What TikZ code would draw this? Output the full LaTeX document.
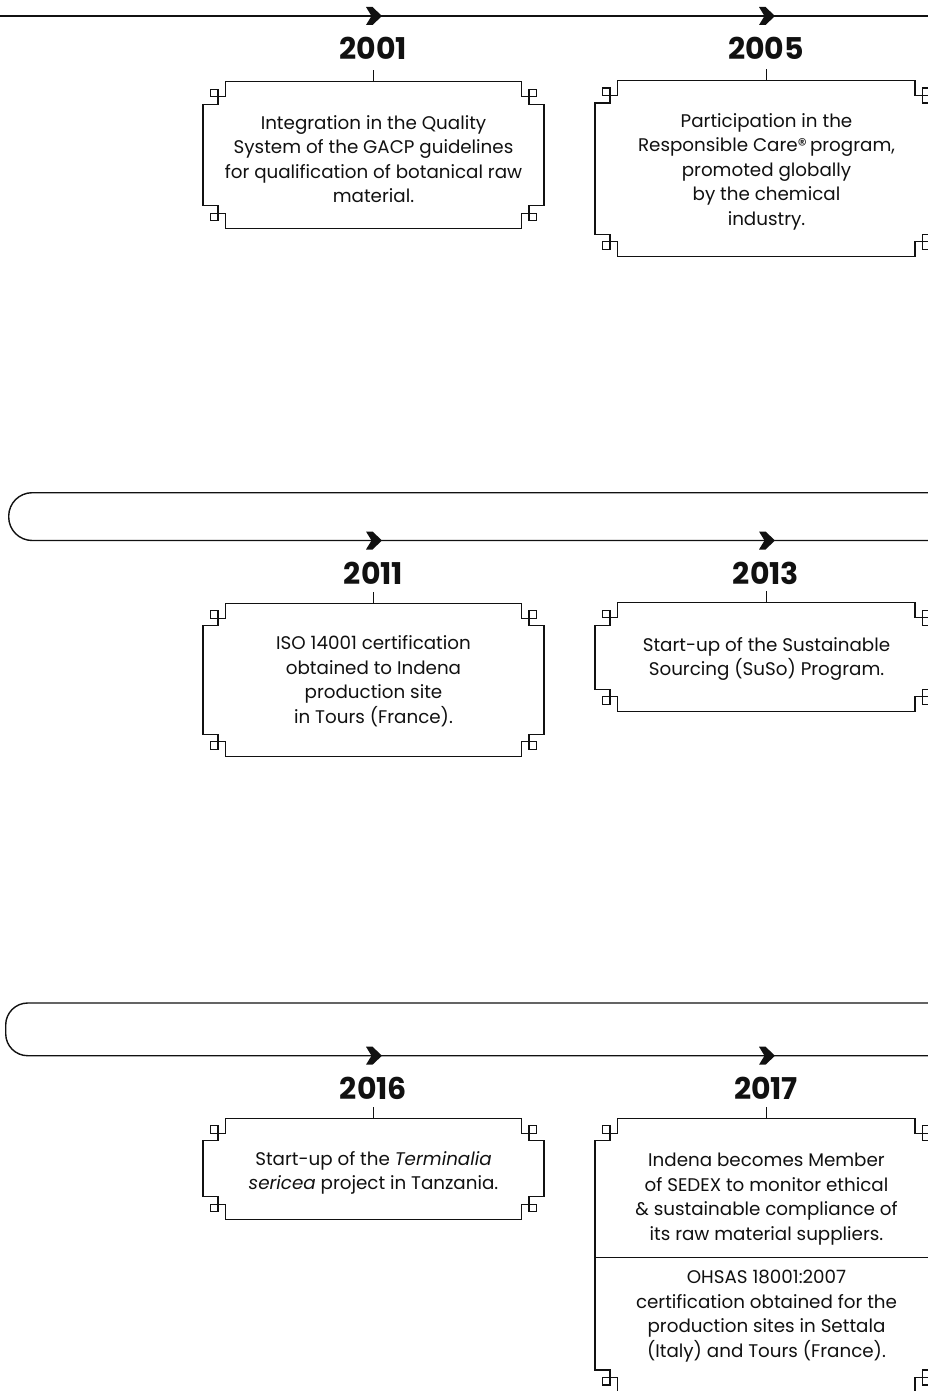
\documentclass[tikz,border=0pt]{standalone}
\usepackage{fontspec}
\setmainfont{Poppins}
\newfontfamily\yearfont{Poppins}
\usetikzlibrary{calc}
\definecolor{ink}{HTML}{111111}
\newcommand{\decoframe}[1]{%
  \draw[frame] ([yshift=-22.5pt]#1.north west) -- ++(15pt,0pt) -- ++(0pt,7.5pt) -- ++(7.5pt,0pt) -- ++(0pt,15pt)
    -- ([xshift=-22.5pt]#1.north east) -- ++(0pt,-15pt) -- ++(7.5pt,0pt) -- ++(0pt,-7.5pt) -- ++(15pt,0pt)
    -- ([yshift=22.5pt]#1.south east) -- ++(-15pt,0pt) -- ++(0pt,-7.5pt) -- ++(-7.5pt,0pt) -- ++(0pt,-15pt)
    -- ([xshift=22.5pt]#1.south west) -- ++(0pt,15pt) -- ++(-7.5pt,0pt) -- ++(0pt,7.5pt) -- ++(-15pt,0pt) -- cycle;
  \draw[frame] ([shift={(7.5pt,-7.5pt)}]#1.north west) rectangle ++(7.5pt,-7.5pt);
  \draw[frame] ([shift={(-7.5pt,-7.5pt)}]#1.north east) rectangle ++(-7.5pt,-7.5pt);
  \draw[frame] ([shift={(-7.5pt,7.5pt)}]#1.south east) rectangle ++(-7.5pt,7.5pt);
  \draw[frame] ([shift={(7.5pt,7.5pt)}]#1.south west) rectangle ++(7.5pt,7.5pt);
  \draw[stub] (#1.north) -- ++(0pt,11.5pt);
}
\tikzset{
  frame/.style={draw=ink, line width=1.1pt},
  stub/.style={draw=ink, line width=1pt},
  tline/.style={draw=ink, line width=1.4pt},
  boxarea/.style={rectangle, draw=none, inner sep=0pt, outer sep=0pt},
  yearlbl/.style={text=ink, inner sep=0pt, font=\yearfont\bfseries\fontsize{30}{30}\selectfont},
  bodytxt/.style={text=ink, inner sep=0pt, align=center, font=\fontsize{18.3}{24.5}\selectfont},
  chev/.pic={\fill[ink] (-8pt,9pt) -- (-1.5pt,9pt) -- (8pt,0pt) -- (-1.5pt,-9pt) -- (-8pt,-9pt) -- (-2.5pt,0pt) -- cycle;}
}
\begin{document}
\begin{tikzpicture}[x=1pt,y=-1pt]
\useasboundingbox (0,0) rectangle (928,1391);
\clip (0,0) rectangle (928,1391);
\fill[white] (0,0) rectangle (928,1391);

% ---------- timeline ----------
\coordinate (r1w) at (0,16);
\coordinate (r1e) at (928,16);
\coordinate (r2a) at (928,492.7);
\coordinate (r2l) at (8.7,492.7);
\coordinate (r2m) at (8.7,540.5);
\coordinate (r2b) at (928,540.5);
\coordinate (r3a) at (928,1003);
\coordinate (r3l) at (5.7,1003);
\coordinate (r3m) at (5.7,1055.7);
\coordinate (r3b) at (928,1055.7);
\draw[tline] (r1w) -- (r1e);
\draw[tline, rounded corners=23.5pt] (r2a) -- (r2l) -- (r2m) -- (r2b);
\draw[tline, rounded corners=22pt] (r3a) -- (r3l) -- (r3m) -- (r3b);
\pic (a2001) at (374,16) {chev};
\pic (a2005) at (767,16) {chev};
\pic (a2011) at (374,540.5) {chev};
\pic (a2013) at (767,540.5) {chev};
\pic (a2016) at (374,1055.7) {chev};
\pic (a2017) at (767,1055.7) {chev};

% ---------- years ----------
\node[yearlbl] (y2001) at (373.5,48) {2001};
\node[yearlbl] (y2005) at (766,48) {2005};
\node[yearlbl] (y2011) at (373.5,573.5) {2011};
\node[yearlbl] (y2013) at (766,573.5) {2013};
\node[yearlbl] (y2016) at (373.5,1088.5) {2016};
\node[yearlbl] (y2017) at (766,1088.5) {2017};

% ---------- boxes ----------
\node[boxarea, minimum width=341pt, minimum height=146.6pt] (b2001) at (373.5,155) {};
\node[boxarea, minimum width=342.5pt, minimum height=176.2pt] (b2005) at (766.25,168.6) {};
\node[boxarea, minimum width=341pt, minimum height=153.4pt] (b2011) at (373.5,680) {};
\node[boxarea, minimum width=342.5pt, minimum height=109pt] (b2013) at (766.25,657.2) {};
\node[boxarea, minimum width=341pt, minimum height=101pt] (b2016) at (373.5,1168.8) {};
\node[boxarea, minimum width=342.5pt, minimum height=274.2pt] (b2017) at (766.25,1255.4) {};
\decoframe{b2001}
\decoframe{b2005}
\decoframe{b2011}
\decoframe{b2013}
\decoframe{b2016}
\decoframe{b2017}
\coordinate (d2017) at (595,1257.3);
\draw[frame] (d2017) -- (d2017 -| b2017.east);

% ---------- texts ----------
\node[bodytxt] (t2001) at (373.5,159) {Integration in the Quality\\System of the GACP guidelines\\for qualification of botanical raw\\material.};
\node[bodytxt] (t2005) at (766.5,171.5) {Participation in the\\Responsible Care®\,program,\\promoted globally\\by the chemical\\industry.};
\node[bodytxt] (t2011) at (373.5,681) {ISO 14001 certification\\obtained to Indena\\production site\\in Tours (France).};
\node[bodytxt] (t2013) at (766.5,659) {Start-up of the Sustainable\\Sourcing (SuSo) Program.};
\node[bodytxt] (t2016) at (373.5,1173) {Start-up of the \textit{Terminalia}\\\textit{sericea} project in Tanzania.};
\node[bodytxt] (t2017a) at (766.5,1199) {Indena becomes Member\\of SEDEX to monitor ethical\\\& sustainable compliance of\\its raw material suppliers.};
\node[bodytxt] (t2017b) at (766.5,1316) {OHSAS 18001:2007\\certification obtained for the\\production sites in Settala\\(Italy) and Tours (France).};
\end{tikzpicture}
\end{document}
